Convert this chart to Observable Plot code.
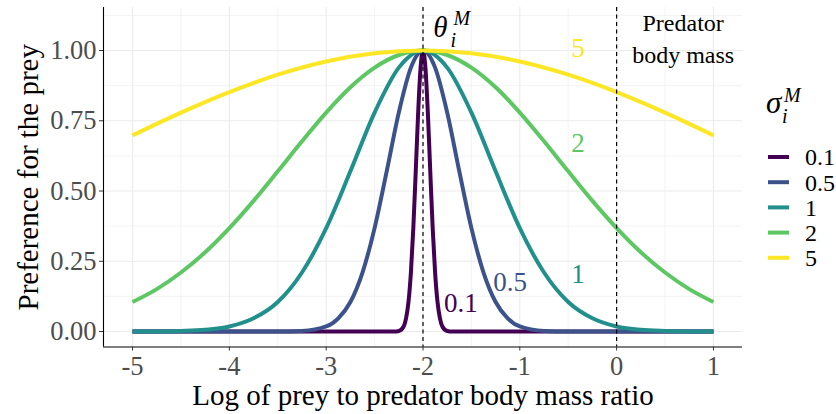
<!DOCTYPE html>
<html><head><meta charset="utf-8">
<script src="https://cdn.jsdelivr.net/npm/d3@7"></script>
<script src="https://cdn.jsdelivr.net/npm/@observablehq/plot@0.6"></script>
<style>
body{margin:0;background:#fff;}
#wrap{position:relative;width:836px;height:414px;}
#wrap svg, #wrap svg text{font-family:'Liberation Serif','Times New Roman',serif !important;}
</style></head><body><div id="wrap"></div>
<script>
// Series: sigma levels and colours
const sigmaLevels = ["0.1","0.5","1","2","5"];
const sigmaColors = ["#440154","#3B528B","#21908C","#5DC863","#FDE725"];

// sigma = 0.1
const x01 = [-5,-2.4,-2.3,-2.25,-2.2,-2.175,-2.15,-2.125,-2.1,-2.075,-2.05,-2.025,-2,-1.975,-1.95,-1.925,-1.9,-1.875,-1.85,-1.825,-1.8,-1.75,-1.7,-1.6,1];
const y01 = [0,0,0,0.002,0.018,0.047,0.105,0.210,0.368,0.570,0.779,0.939,1,0.939,0.779,0.570,0.368,0.210,0.105,0.047,0.018,0.002,0,0,0];
// sigma = 0.5
const x05 = [-5,-4,-3.5,-3.25,-3,-2.875,-2.75,-2.625,-2.5,-2.375,-2.25,-2.125,-2,-1.875,-1.75,-1.625,-1.5,-1.375,-1.25,-1.125,-1,-0.75,-0.5,0,1];
const y05 = [0,0,0.0001,0.002,0.018,0.047,0.105,0.210,0.368,0.570,0.779,0.939,1,0.939,0.779,0.570,0.368,0.210,0.105,0.047,0.018,0.002,0.0001,0,0];
// sigma = 1
const x1 = [-5,-4.75,-4.5,-4.25,-4,-3.75,-3.5,-3.25,-3,-2.75,-2.5,-2.25,-2,-1.75,-1.5,-1.25,-1,-0.75,-0.5,-0.25,0,0.25,0.5,0.75,1];
const y1 = [0.0001,0.0005,0.002,0.006,0.018,0.047,0.105,0.210,0.368,0.570,0.779,0.939,1,0.939,0.779,0.570,0.368,0.210,0.105,0.047,0.018,0.006,0.002,0.0005,0.0001];
// sigma = 2
const x2 = [-5,-4.75,-4.5,-4.25,-4,-3.75,-3.5,-3.25,-3,-2.75,-2.5,-2.25,-2,-1.75,-1.5,-1.25,-1,-0.75,-0.5,-0.25,0,0.25,0.5,0.75,1];
const y2 = [0.105,0.151,0.210,0.282,0.368,0.465,0.570,0.677,0.779,0.869,0.939,0.984,1,0.984,0.939,0.869,0.779,0.677,0.570,0.465,0.368,0.282,0.210,0.151,0.105];
// sigma = 5
const x5 = [-5,-4.5,-4,-3.5,-3,-2.5,-2,-1.5,-1,-0.5,0,0.5,1];
const y5 = [0.698,0.779,0.852,0.914,0.961,0.990,1,0.990,0.961,0.914,0.852,0.779,0.698];

// Axis ticks
const xTicks = [-5,-4,-3,-2,-1,0,1];
const xMinor = [-4.5,-3.5,-2.5,-1.5,-0.5,0.5];
const yTicks = [0,0.25,0.5,0.75,1];
const yMinor = [0.125,0.375,0.625,0.875,1.125];
const vLines = [-2,0];

// In-panel labels
const curveLabelText = ["0.1","0.5","1","2","5"];
const curveLabelX = [-1.61,-1.10,-0.40,-0.40,-0.40];
const curveLabelY = [0.10,0.174,0.203,0.67,1.009];

const xTitle = "Log of prey to predator body mass ratio";
const yTitle = "Preference for the prey";
const predatorText = "Predator\nbody mass";

const FONT = "'Liberation Serif', 'Times New Roman', serif";

const seriesXs = [x01,x05,x1,x2,x5];
const seriesYs = [y01,y05,y1,y2,y5];
const rows = [];
sigmaLevels.forEach((s,i)=>{
  seriesXs[i].forEach((xv,j)=>rows.push({sigma:s, x:xv, y:seriesYs[i][j]}));
});
const labels = curveLabelText.map((t,i)=>({t, x:curveLabelX[i], y:curveLabelY[i], sigma:sigmaLevels[i]}));

const chart = Plot.plot({
  width: 836, height: 414,
  marginLeft: 103, marginRight: 94, marginTop: 7, marginBottom: 67.5,
  style: `font-family: ${FONT}; background: #fff;`,
  x: {domain: [-5.3, 1.3]},
  y: {domain: [-0.055, 1.153]},
  color: {domain: sigmaLevels, range: sigmaColors},
  marks: [
    Plot.ruleX(xMinor, {stroke: "#F0F0F0", strokeWidth: 0.8}),
    Plot.ruleY(yMinor, {stroke: "#F0F0F0", strokeWidth: 0.8}),
    Plot.ruleX(xTicks, {stroke: "#EBEBEB", strokeWidth: 1.1}),
    Plot.ruleY(yTicks, {stroke: "#EBEBEB", strokeWidth: 1.1}),
    Plot.line(rows, {x: "x", y: "y", z: "sigma", stroke: "sigma", strokeWidth: 4, curve: "monotone-x", strokeLinecap: "butt"}),
    Plot.ruleX(vLines, {stroke: "#000", strokeWidth: 1.2, strokeDasharray: "4,3.5"}),
    Plot.text(labels, {x: "x", y: "y", text: "t", fill: "sigma", fontSize: 27, fontFamily: FONT}),
    Plot.text(["θ"], {x: -1.82, y: 1.08, fontSize: 29, fontStyle: "italic", fontFamily: FONT, fill: "#000"}),
    Plot.text(["i"], {x: -1.716, y: 1.036, fontSize: 20, fontStyle: "italic", textAnchor: "start", fontFamily: FONT, fill: "#000"}),
    Plot.text(["M"], {x: -1.685, y: 1.114, fontSize: 20, fontStyle: "italic", textAnchor: "start", fontFamily: FONT, fill: "#000"}),
    Plot.text([predatorText], {x: 0.687, y: 1.05, fontSize: 24, lineHeight: 1.35, fontFamily: FONT, fill: "#000"}),
    Plot.ruleX([-5.3], {stroke: "#000", strokeWidth: 1.1}),
    Plot.ruleY([-0.055], {stroke: "#000", strokeWidth: 1.1}),
    Plot.axisX(xTicks, {tickSize: 4, tickPadding: 5, fontSize: 26.5, fontFamily: FONT, color: "#4D4D4D", stroke: "#333", label: null,
      tickFormat: d => (d < 0 ? "-" + Math.abs(d) : String(d))}),
    Plot.axisY(yTicks, {tickSize: 4, tickPadding: 3, fontSize: 26.5, fontFamily: FONT, color: "#4D4D4D", stroke: "#333", label: null,
      tickFormat: d3.format(".2f")}),
    Plot.text([xTitle], {frameAnchor: "bottom", dy: 48.5, lineAnchor: "middle", textAnchor: "middle", fontSize: 29, fill: "#000", fontFamily: FONT}),
    Plot.text([yTitle], {frameAnchor: "left", dx: -75, rotate: -90, textAnchor: "middle", lineAnchor: "middle", fontSize: 29, fill: "#000", fontFamily: FONT})
  ]
});
document.getElementById("wrap").appendChild(chart);

// Legend (drawn into the same SVG, on the right)
const svg = d3.select(chart.tagName.toLowerCase() === "svg" ? chart : chart.querySelector("svg"));
const lg = svg.append("g").style("font-family", FONT).attr("text-anchor", "start").attr("fill", "#000");
lg.append("text").attr("x", 766).attr("y", 113).attr("font-size", 31).attr("font-style", "italic").text("σ");
lg.append("text").attr("x", 782).attr("y", 123).attr("font-size", 20).attr("font-style", "italic").text("i");
lg.append("text").attr("x", 784).attr("y", 102).attr("font-size", 20).attr("font-style", "italic").text("M");
const rowY = d3.scaleLinear().domain([0, 1]).range([157, 182.2]);
sigmaLevels.forEach((s, i) => {
  const yy = rowY(i);
  lg.append("line").attr("x1", 768).attr("x2", 789).attr("y1", yy).attr("y2", yy)
    .attr("stroke", sigmaColors[i]).attr("stroke-width", 4);
  lg.append("text").attr("x", 805).attr("y", yy).attr("dy", "0.35em").attr("font-size", 24).text(s);
});
</script>
</body></html>
